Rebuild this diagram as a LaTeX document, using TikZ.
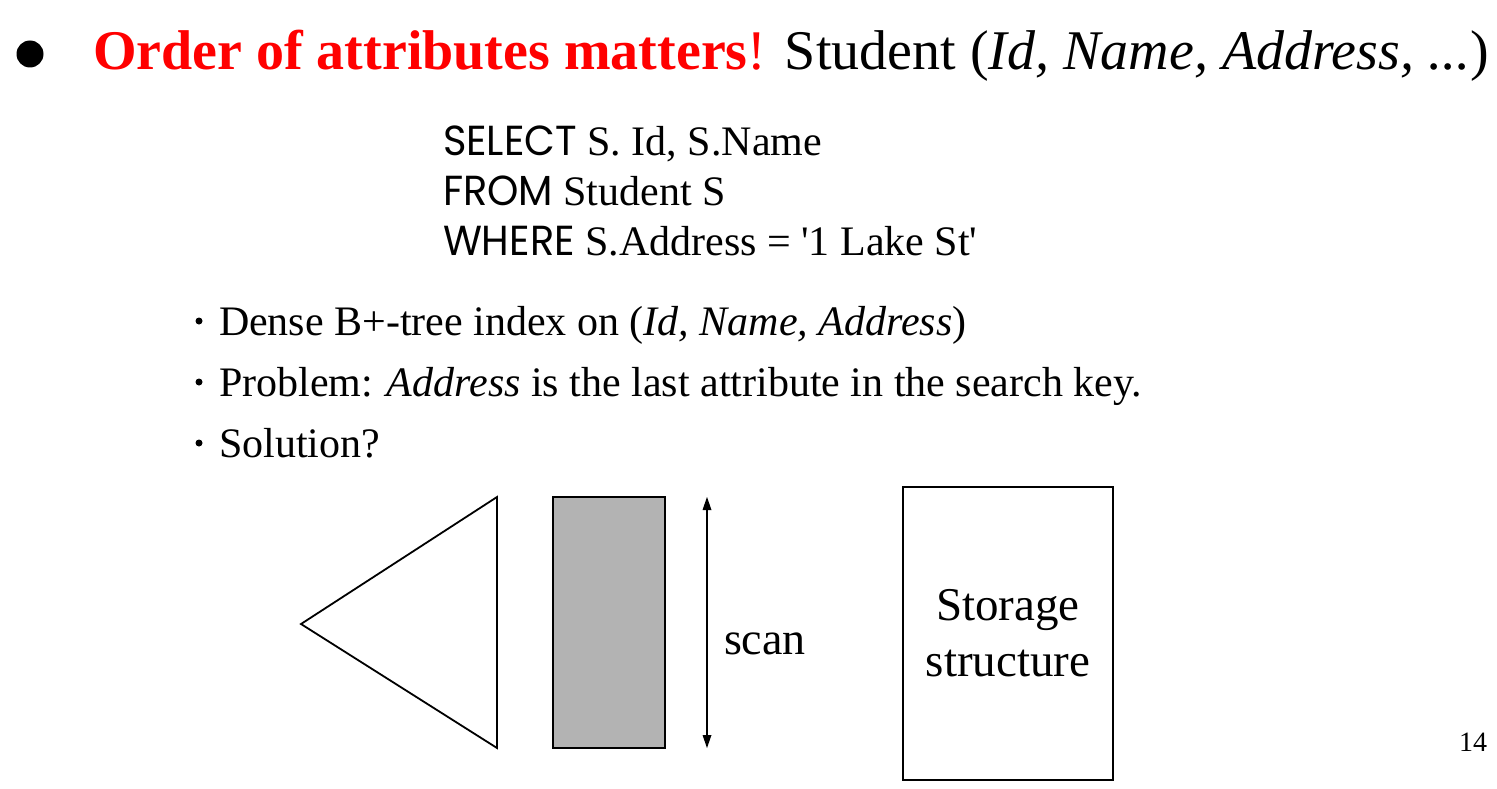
\documentclass[tikz,border=0pt]{standalone}
\usepackage{fontspec}
\setmainfont{Liberation Serif}
\newfontfamily\sqlfont[FakeStretch=0.95]{Poppins}
\usepackage{xcolor}
\definecolor{titlered}{RGB}{255,0,0}
\definecolor{idxgray}{RGB}{179,179,179}

\begin{document}
\begin{tikzpicture}[x=1pt,y=-1pt,line width=1.8pt,
  every node/.style={inner sep=0pt,outer sep=0pt,anchor=base west,font=\fontsize{42}{52}\selectfont},
  big/.style={font=\fontsize{56}{56}\selectfont},
  dotmark/.style={circle,fill,anchor=center,minimum size=7pt},
  box/.style={draw,anchor=north west,align=center,font=\fontsize{47}{56}\selectfont}]
  \useasboundingbox (0,0) rectangle (1497,789);

  % heading
  \node[dotmark,minimum size=27pt] (dot) at (30,54) {};
  \node[big] (title) at (93,70) {\textcolor{titlered}{\textbf{Order of attributes matters}!} Student (\textit{Id, Name, Address, ...})};

  % query
  \node (sel) at (443,156) {{\sqlfont SELECT} S. Id, S.Name};
  \node (frm) at (443,205) {{\sqlfont FROM} Student S};
  \node (whr) at (443,255) {{\sqlfont WHERE} S.Address = \textquotesingle 1 Lake St\textquotesingle};

  % points
  \node[dotmark] (p1) at (199,321) {};
  \node (b1) at (219,335) {Dense B+-tree index on (\textit{Id, Name, Address})};
  \node[dotmark] (p2) at (199,382) {};
  \node (b2) at (219,396) {Problem: \textit{Address} is the last attribute in the search key.};
  \node[dotmark] (p3) at (199,443) {};
  \node (b3) at (219,457) {Solution?};

  % tree, index, scan, storage
  \draw (497,497) -- (301,624) -- (497,748) -- cycle;
  \node[box,fill=idxgray,minimum width=112,minimum height=251] (idx) at (553,497) {};
  \coordinate (s1) at (707,497);
  \coordinate (s2) at (707,748);
  \draw[line width=1.5pt] ([yshift=-8pt]s1) -- ([yshift=8pt]s2);
  \fill (s1) -- ++(-4.5,13) -- ++(9,0) -- cycle;
  \fill (s2) -- ++(-4.5,-13) -- ++(9,0) -- cycle;
  \node[font=\fontsize{46}{46}\selectfont] (scan) at (724,654) {scan};
  \node[box,minimum width=210,minimum height=293] (store) at (903,487) {Storage\\structure};

  \node[font=\fontsize{28}{28}\selectfont] (page) at (1459,751) {14};
\end{tikzpicture}
\end{document}
